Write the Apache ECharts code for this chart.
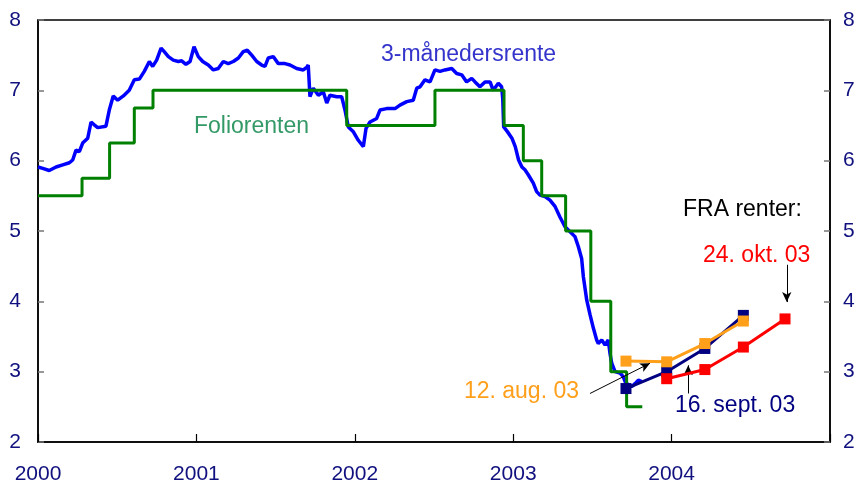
<!DOCTYPE html>
<html>
<head>
<meta charset="utf-8">
<script src="https://cdn.jsdelivr.net/npm/echarts@6/dist/echarts.min.js"></script>
<style>
html,body{margin:0;padding:0;background:#fff;}
#chart{width:863px;height:487px;}
</style>
</head>
<body>
<div id="chart"></div>
<script>
// ---- Data (x in decimal years) ----
var xTicks = [2000, 2001, 2002, 2003, 2004, 2005];
var yTicks = [2, 3, 4, 5, 6, 7, 8];

// 3-month rate (3-månedersrente)
var nibor = [
 [2000.000,5.91],[2000.030,5.89],[2000.071,5.86],[2000.114,5.91],[2000.156,5.94],[2000.198,5.97],
 [2000.219,6.01],[2000.240,6.15],[2000.261,6.13],[2000.282,6.25],[2000.314,6.32],[2000.335,6.55],
 [2000.355,6.51],[2000.377,6.47],[2000.429,6.49],[2000.450,6.72],[2000.475,6.92],[2000.503,6.86],
 [2000.539,6.92],[2000.576,7.00],[2000.608,7.15],[2000.640,7.16],[2000.671,7.27],[2000.703,7.41],
 [2000.724,7.34],[2000.749,7.43],[2000.777,7.60],[2000.797,7.55],[2000.823,7.48],[2000.854,7.43],
 [2000.886,7.41],[2000.907,7.42],[2000.934,7.37],[2000.960,7.41],[2000.985,7.62],[2001.012,7.48],
 [2001.040,7.41],[2001.075,7.36],[2001.107,7.29],[2001.138,7.31],[2001.170,7.41],[2001.201,7.38],
 [2001.233,7.41],[2001.265,7.46],[2001.296,7.55],[2001.321,7.57],[2001.349,7.50],[2001.381,7.41],
 [2001.412,7.36],[2001.433,7.34],[2001.454,7.46],[2001.485,7.48],[2001.517,7.38],[2001.559,7.38],
 [2001.591,7.36],[2001.633,7.31],[2001.675,7.29],[2001.698,7.33],[2001.706,7.36],[2001.717,6.91],
 [2001.738,7.03],[2001.770,6.93],[2001.801,6.98],[2001.823,6.82],[2001.843,6.93],[2001.886,6.91],
 [2001.917,6.91],[2001.938,6.72],[2001.959,6.48],[2001.991,6.41],[2002.022,6.29],[2002.054,6.20],
 [2002.071,6.46],[2002.096,6.55],[2002.138,6.60],[2002.159,6.72],[2002.201,6.74],[2002.254,6.74],
 [2002.285,6.79],[2002.328,6.84],[2002.369,6.86],[2002.391,7.03],[2002.412,7.05],[2002.443,7.15],
 [2002.475,7.12],[2002.506,7.29],[2002.538,7.27],[2002.569,7.29],[2002.612,7.31],[2002.643,7.24],
 [2002.675,7.22],[2002.706,7.12],[2002.738,7.17],[2002.759,7.12],[2002.790,7.05],[2002.822,7.12],
 [2002.854,7.12],[2002.874,7.00],[2002.906,7.10],[2002.927,7.05],[2002.934,6.88],[2002.940,6.48],
 [2002.961,6.42],[2002.992,6.32],[2003.013,6.20],[2003.034,6.01],[2003.055,5.91],[2003.074,5.87],
 [2003.095,5.80],[2003.127,5.68],[2003.148,5.56],[2003.169,5.51],[2003.201,5.49],[2003.232,5.44],
 [2003.264,5.35],[2003.295,5.20],[2003.327,5.06],[2003.359,4.99],[2003.390,4.92],[2003.411,4.78],
 [2003.432,4.61],[2003.443,4.35],[2003.464,4.02],[2003.485,3.81],[2003.506,3.62],[2003.527,3.45],
 [2003.537,3.40],[2003.559,3.45],[2003.580,3.38],[2003.600,3.45],[2003.611,3.26],[2003.622,3.12],
 [2003.643,3.00],[2003.674,2.98],[2003.695,2.93],[2003.706,2.86],[2003.727,2.81],[2003.749,2.79],
 [2003.769,2.83],[2003.790,2.88],[2003.812,2.86]
];

// Foliorenten (sight deposit rate): [change date, new rate]
var folio = [
 [2000.000,5.5],[2000.278,5.75],[2000.452,6.25],[2000.608,6.75],[2000.726,7.0],[2001.949,6.5],
 [2002.506,7.0],[2002.942,6.5],[2003.064,6.0],[2003.180,5.5],[2003.331,5.0],[2003.490,4.0],
 [2003.616,3.0],[2003.716,2.5],[2003.815,2.5]
];

// FRA rates
var fraDatesA = [2003.712, 2003.969, 2004.210, 2004.453];
var fraAug = [3.15, 3.14, 3.40, 3.72];   // 12. aug. 03
var fraSep = [2.76, 3.00, 3.33, 3.80];   // 16. sept. 03
var fraDatesB = [2003.969, 2004.210, 2004.453, 2004.716];
var fraOct = [2.90, 3.03, 3.35, 3.75];   // 24. okt. 03

// Annotation arrows (data coordinates)
var arrows = [
 [[2003.485, 2.69], [2003.864, 3.12]],
 [[2004.105, 2.69], [2004.105, 3.09]],
 [[2004.727, 4.52], [2004.727, 3.99]]
];

function zip(xs, ys){ return xs.map(function(x,i){ return [x, ys[i]]; }); }

var FONT = "'Liberation Sans', Arial, sans-serif";
var NAVY = '#10107f';

var chart = echarts.init(document.getElementById('chart'));

function yAxisDef(pos, margin){
  return {
    type:'value', position:pos, min:yTicks[0], max:yTicks[yTicks.length-1], interval:1,
    axisLine:{show:true, lineStyle:{color:'#000', width:1.5}},
    axisTick:{show:true, inside:true, length:6, lineStyle:{color:'#777', width:1.5}},
    axisLabel:{color:NAVY, fontSize:21, fontFamily:FONT, margin:margin},
    splitLine:{show:false}
  };
}

var markLineData = arrows.map(function(a){
  return [{coord:a[0], symbol:'none'},{coord:a[1], symbol:'arrow', symbolSize:[7,10]}];
});

chart.setOption({
  animation:false,
  backgroundColor:'#fff',
  grid:{left:38, right:33, top:20, bottom:45, show:true, borderColor:'#000', borderWidth:1.5},
  xAxis:{
    type:'value', min:xTicks[0], max:xTicks[xTicks.length-1], interval:1,
    axisLine:{show:true, lineStyle:{color:'#000', width:1.5}},
    axisTick:{show:true, inside:true, length:8, lineStyle:{color:'#000', width:1.2}},
    axisLabel:{color:NAVY, fontSize:21, fontFamily:FONT, margin:22,
      formatter:function(v){ return v===xTicks[xTicks.length-1] ? '' : String(v); }},
    splitLine:{show:false}
  },
  yAxis:[yAxisDef('left',17), yAxisDef('right',13)],
  series:[
    {name:'3-månedersrente', type:'line', data:nibor, showSymbol:false, symbol:'none',
     lineStyle:{color:'#0000ff', width:3.5}, z:2},
    {name:'Foliorenten', type:'line', step:'end', data:folio, showSymbol:false, symbol:'none',
     lineStyle:{color:'#008000', width:3}, z:3},
    {name:'16. sept. 03', type:'line', data:zip(fraDatesA, fraSep), symbol:'rect', symbolSize:11,
     itemStyle:{color:'#000080'}, lineStyle:{color:'#000080', width:3}, z:4},
    {name:'12. aug. 03', type:'line', data:zip(fraDatesA, fraAug), symbol:'rect', symbolSize:11,
     itemStyle:{color:'#ff9f1a'}, lineStyle:{color:'#ff9f1a', width:3}, z:5},
    {name:'24. okt. 03', type:'line', data:zip(fraDatesB, fraOct), symbol:'rect', symbolSize:11,
     itemStyle:{color:'#ff0000'}, lineStyle:{color:'#ff0000', width:3}, z:6,
     markLine:{silent:true, symbol:['none','arrow'], symbolSize:10, label:{show:false},
       itemStyle:{color:'#000'},
       lineStyle:{color:'#000', width:1, type:'solid'}, data:markLineData}}
  ],
  graphic:[
    {type:'text', left:381, top:43, style:{text:'3-månedersrente', fill:'#3434cc', font:'23px '+FONT}},
    {type:'text', left:194, top:115, style:{text:'Foliorenten', fill:'#339966', font:'23px '+FONT}},
    {type:'text', left:683, top:198, style:{text:'FRA renter:', fill:'#000', font:'23px '+FONT}},
    {type:'text', left:703, top:244, style:{text:'24. okt. 03', fill:'#ff0000', font:'23px '+FONT}},
    {type:'text', right:284, top:380, style:{text:'12. aug. 03', fill:'#ff9f1a', font:'23px '+FONT}},
    {type:'text', left:675, top:394, style:{text:'16. sept. 03', fill:'#000080', font:'23px '+FONT}}
  ]
});
</script>
</body>
</html>
